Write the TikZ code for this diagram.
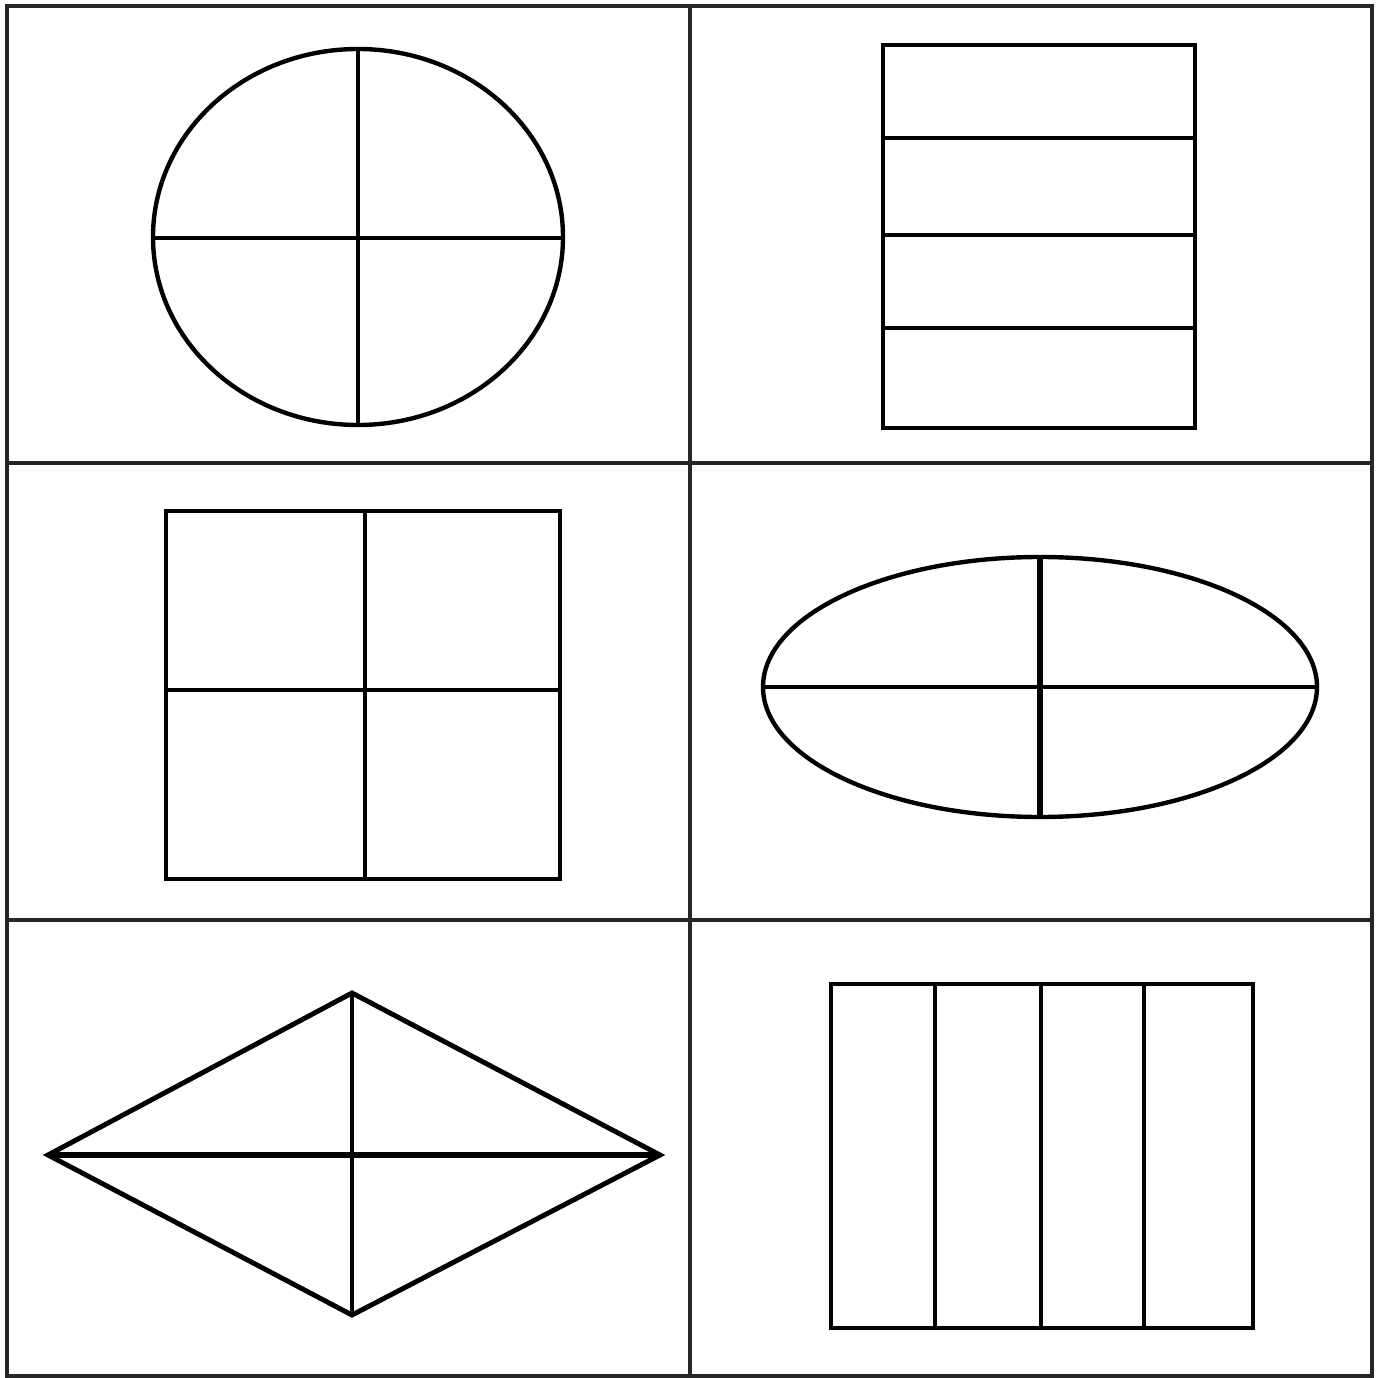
\documentclass[tikz,border=0pt]{standalone}
\usepackage{tikz}

\begin{document}
\begin{tikzpicture}[
  x=0.02cm, y=-0.02cm,
  frame/.style={draw=black!85,line width=2.1pt},
  outline/.style={draw=black,line width=2.5pt},
  divider/.style={draw=black,line width=2.4pt}
]
  \useasboundingbox (0,0) rectangle (1380,1378);

  % grid
  \draw[frame] (7,6) rectangle (1372,1376);
  \draw[frame] (690,6) -- (690,1376);
  \draw[frame] (7,463) -- (1372,463);
  \draw[frame] (7,920) -- (1372,920);

  % circle
  \draw[outline] (358,237) ellipse [x radius=205,y radius=188];
  \draw[divider] (153,238) -- (563,238);
  \draw[divider] (358,49) -- (358,425);

  % horizontal stripes
  \draw[outline] (883,45) rectangle (1195,428);
  \foreach \yy in {138,235,328}
    \draw[divider] (883,\yy) -- (1195,\yy);

  % square
  \draw[outline] (166,511) rectangle (560,879);
  \draw[divider] (365,511) -- (365,879);
  \draw[divider] (166,690) -- (560,690);

  % ellipse
  \draw[outline] (1040,687) ellipse [x radius=277,y radius=130];
  \draw[divider] (763,687) -- (1317,687);
  \draw[divider,line width=3.2pt] (1040,557) -- (1040,817);

  % rhombus
  \draw[outline,line width=2.8pt] (48,1155) -- (352,993) -- (660,1155) -- (352,1315) -- cycle;
  \draw[divider,line width=3.6pt] (48,1155) -- (660,1155);
  \draw[divider,line width=2.8pt] (352,993) -- (352,1315);

  % vertical stripes
  \draw[outline] (831,984) rectangle (1253,1328);
  \foreach \xx in {935,1041,1144}
    \draw[divider] (\xx,984) -- (\xx,1328);
\end{tikzpicture}
\end{document}
